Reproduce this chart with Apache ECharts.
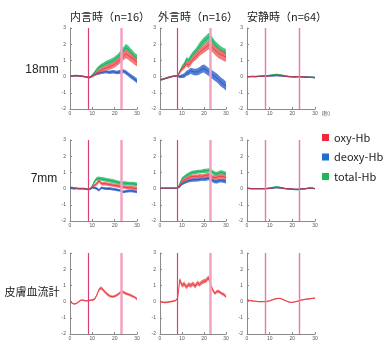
<!DOCTYPE html>
<html><head><meta charset="utf-8">
<script src="https://cdn.jsdelivr.net/npm/echarts@6/dist/echarts.min.js"></script>
<style>html,body{margin:0;padding:0;background:#fff}#c{width:390px;height:355px}</style>
</head><body><div id="c"></div>
<script>
// time axis (s)
const T = [0,1,2,3,4,5,6,7,8,9,10,11,12,13,14,15,16,17,18,19,20,21,22,23,24,25,26,27,28,29,30];
const colTitles = ['内言時（n=16）','外言時（n=16）','安静時（n=64）'];
const rowTitles = ['18mm','7mm','皮膚血流計'];
const legendNames = ['oxy-Hb','deoxy-Hb','total-Hb'];
const taskLines = [8, 23];
const xTicks = [0, 10, 20, 30];
const yTicks = [-2, -1, 0, 1, 2, 3];

// 18mm 内言時
const oxy11 = [0.02,0.04,0.05,0.05,0.04,0.03,0.02,0.0,-0.04,-0.05,0.02,0.12,0.22,0.32,0.4,0.47,0.52,0.57,0.62,0.68,0.76,0.86,0.98,1.12,1.28,1.4,1.32,1.2,1.12,1.0,0.9];
const oxy11w = [0.04,0.04,0.04,0.04,0.04,0.04,0.04,0.04,0.04,0.05,0.07,0.1,0.12,0.13,0.14,0.15,0.16,0.17,0.18,0.19,0.2,0.21,0.22,0.23,0.25,0.26,0.27,0.27,0.28,0.28,0.28];
const deoxy11 = [0.02,0.03,0.04,0.04,0.03,0.02,0.0,-0.02,-0.04,-0.03,0.05,0.12,0.18,0.22,0.26,0.28,0.3,0.28,0.27,0.3,0.28,0.25,0.28,0.3,0.34,0.26,0.15,0.04,-0.06,-0.16,-0.26];
const deoxy11w = [0.04,0.04,0.04,0.04,0.04,0.04,0.04,0.04,0.04,0.05,0.06,0.08,0.09,0.1,0.1,0.1,0.1,0.1,0.11,0.11,0.11,0.11,0.12,0.12,0.12,0.13,0.13,0.14,0.14,0.15,0.15];
const total11 = [0.03,0.05,0.07,0.07,0.06,0.05,0.02,-0.02,-0.06,-0.06,0.08,0.25,0.42,0.55,0.65,0.72,0.8,0.85,0.9,0.96,1.05,1.15,1.27,1.44,1.63,1.78,1.7,1.52,1.38,1.22,1.12];
const total11w = [0.04,0.04,0.04,0.04,0.04,0.04,0.04,0.04,0.04,0.05,0.08,0.1,0.12,0.13,0.14,0.15,0.16,0.17,0.18,0.19,0.19,0.2,0.21,0.22,0.22,0.23,0.23,0.24,0.24,0.24,0.24];
// 18mm 外言時
const oxy12 = [-0.2,-0.17,-0.13,-0.09,-0.05,-0.01,0.02,0.03,0.05,0.28,0.48,0.6,0.8,0.7,0.88,1.08,1.2,1.34,1.5,1.62,1.72,1.82,1.95,1.9,1.76,1.62,1.5,1.4,1.34,1.26,1.2];
const oxy12w = [0.05,0.05,0.05,0.05,0.05,0.05,0.05,0.05,0.06,0.1,0.13,0.15,0.17,0.18,0.19,0.2,0.21,0.22,0.23,0.24,0.25,0.26,0.27,0.28,0.28,0.29,0.29,0.3,0.3,0.3,0.3];
const deoxy12 = [-0.2,-0.17,-0.13,-0.09,-0.05,-0.01,0.02,0.03,0.04,0.0,0.03,0.06,0.2,0.26,0.36,0.3,0.28,0.3,0.36,0.46,0.5,0.4,0.3,0.2,0.1,0.0,-0.1,-0.24,-0.36,-0.46,-0.6];
const deoxy12w = [0.05,0.05,0.05,0.05,0.05,0.05,0.05,0.05,0.06,0.1,0.12,0.14,0.16,0.18,0.19,0.2,0.21,0.22,0.23,0.24,0.24,0.25,0.25,0.26,0.26,0.27,0.27,0.28,0.28,0.28,0.28];
const total12 = [-0.2,-0.17,-0.13,-0.09,-0.05,-0.01,0.02,0.03,0.06,0.3,0.58,0.74,1.04,0.96,1.2,1.38,1.5,1.68,1.88,2.05,2.2,2.3,2.45,2.38,2.18,1.96,1.82,1.7,1.6,1.52,1.46];
const total12w = [0.05,0.05,0.05,0.05,0.05,0.05,0.05,0.05,0.06,0.1,0.12,0.14,0.16,0.17,0.18,0.19,0.2,0.21,0.22,0.22,0.23,0.23,0.24,0.24,0.24,0.25,0.25,0.25,0.25,0.25,0.25];
// 18mm 安静時
const oxy13 = [0.0,0.0,0.01,0.0,0.0,0.01,0.02,0.03,0.03,0.04,0.05,0.06,0.08,0.09,0.08,0.06,0.04,0.02,0.01,0.0,0.0,-0.01,0.0,0.0,-0.01,-0.02,-0.03,-0.04,-0.05,-0.05,-0.06];
const deoxy13 = [0.0,0.0,0.0,0.0,0.0,0.01,0.01,0.02,0.02,0.03,0.04,0.04,0.05,0.06,0.05,0.04,0.03,0.02,0.0,0.0,-0.01,-0.01,-0.01,0.0,-0.01,-0.02,-0.03,-0.03,-0.04,-0.04,-0.05];
const total13 = [0.0,0.0,0.01,0.01,0.01,0.02,0.03,0.04,0.05,0.06,0.08,0.1,0.12,0.14,0.12,0.1,0.07,0.04,0.02,0.0,0.0,-0.01,0.0,0.0,-0.01,-0.02,-0.03,-0.04,-0.05,-0.06,-0.07];
const rest13w = 0.04;
// 7mm 内言時
const oxy21 = [0.08,0.06,0.04,0.02,0.0,0.0,0.0,-0.02,-0.05,-0.03,0.08,0.2,0.3,0.48,0.32,0.3,0.3,0.27,0.25,0.22,0.2,0.18,0.15,0.12,0.1,0.08,0.06,0.05,0.04,0.02,0.0];
const oxy21w = [0.05,0.05,0.05,0.05,0.05,0.05,0.05,0.05,0.05,0.06,0.08,0.1,0.11,0.12,0.11,0.11,0.11,0.11,0.11,0.11,0.11,0.11,0.11,0.11,0.11,0.12,0.12,0.12,0.12,0.12,0.12];
const deoxy21 = [0.02,0.0,-0.02,0.0,0.0,0.0,0.0,-0.02,-0.05,-0.02,0.05,0.05,0.0,-0.1,0.05,0.02,0.0,0.0,0.0,-0.03,-0.05,-0.08,-0.1,-0.15,-0.2,-0.17,-0.15,-0.14,-0.15,-0.17,-0.2];
const deoxy21w = [0.04,0.04,0.04,0.04,0.04,0.04,0.04,0.04,0.04,0.05,0.06,0.07,0.08,0.08,0.08,0.08,0.08,0.08,0.08,0.08,0.08,0.08,0.08,0.08,0.09,0.09,0.09,0.09,0.09,0.09,0.09];
const total21 = [0.08,0.06,0.04,0.02,0.0,0.0,0.0,-0.02,-0.05,-0.02,0.15,0.45,0.6,0.62,0.6,0.58,0.55,0.52,0.5,0.47,0.44,0.4,0.36,0.35,0.34,0.33,0.31,0.3,0.3,0.28,0.25];
const total21w = [0.05,0.05,0.05,0.05,0.05,0.05,0.05,0.05,0.05,0.06,0.08,0.1,0.12,0.12,0.12,0.12,0.12,0.12,0.12,0.12,0.12,0.12,0.12,0.12,0.12,0.12,0.12,0.12,0.12,0.12,0.12];
// 7mm 外言時
const oxy22 = [0.03,0.03,0.03,0.03,0.03,0.03,0.03,0.03,0.03,0.2,0.42,0.52,0.6,0.68,0.72,0.75,0.76,0.75,0.78,0.76,0.78,0.82,0.85,0.8,0.7,0.68,0.7,0.75,0.75,0.72,0.7];
const oxy22w = [0.03,0.03,0.03,0.03,0.03,0.03,0.03,0.03,0.03,0.07,0.1,0.11,0.12,0.12,0.12,0.12,0.12,0.12,0.12,0.12,0.13,0.13,0.13,0.13,0.13,0.14,0.14,0.14,0.14,0.14,0.14];
const deoxy22 = [0.02,0.02,0.02,0.02,0.02,0.02,0.02,0.02,0.02,0.12,0.3,0.38,0.45,0.5,0.52,0.55,0.55,0.56,0.58,0.6,0.6,0.62,0.65,0.6,0.5,0.45,0.45,0.5,0.5,0.48,0.45];
const deoxy22w = [0.03,0.03,0.03,0.03,0.03,0.03,0.03,0.03,0.03,0.07,0.1,0.11,0.12,0.12,0.12,0.12,0.12,0.12,0.12,0.12,0.13,0.13,0.13,0.13,0.13,0.13,0.13,0.13,0.13,0.13,0.13];
const total22 = [0.03,0.03,0.03,0.03,0.03,0.03,0.03,0.03,0.03,0.3,0.6,0.7,0.8,0.88,0.95,1.0,1.02,1.04,1.05,1.06,1.1,1.1,1.12,1.1,1.0,0.92,0.9,0.98,1.0,0.95,0.9];
const total22w = [0.03,0.03,0.03,0.03,0.03,0.03,0.03,0.03,0.03,0.07,0.1,0.11,0.12,0.12,0.12,0.12,0.12,0.12,0.12,0.12,0.13,0.13,0.13,0.13,0.13,0.14,0.14,0.14,0.14,0.14,0.14];
// 7mm 安静時
const oxy23 = [0.02,0.01,0.0,0.0,0.0,0.0,0.0,0.0,0.0,0.01,0.02,0.04,0.06,0.08,0.07,0.04,0.02,0.0,-0.01,-0.02,-0.03,-0.04,-0.05,-0.04,-0.03,-0.01,0.0,0.02,0.03,0.02,0.0];
const deoxy23 = [0.01,0.0,0.0,0.0,0.0,0.0,0.0,0.0,0.0,0.0,0.01,0.02,0.04,0.05,0.04,0.03,0.01,0.0,-0.01,-0.02,-0.03,-0.04,-0.04,-0.03,-0.02,-0.01,0.0,0.01,0.02,0.01,0.0];
const total23 = [0.03,0.01,0.0,0.0,0.0,0.0,0.0,0.0,0.0,0.01,0.03,0.06,0.09,0.11,0.1,0.06,0.03,0.0,-0.02,-0.04,-0.05,-0.06,-0.07,-0.06,-0.04,-0.02,0.0,0.03,0.04,0.03,0.0];
const rest23w = 0.035;
// 皮膚血流計
const skin31 = [0.0,-0.1,-0.15,-0.1,0.0,0.1,0.08,0.05,0.05,0.08,0.1,0.15,0.4,0.75,0.85,0.7,0.55,0.42,0.33,0.3,0.33,0.4,0.5,0.62,0.58,0.5,0.45,0.4,0.33,0.27,0.15];
const skin31w = [0.05,0.05,0.05,0.05,0.05,0.05,0.05,0.05,0.05,0.05,0.06,0.07,0.08,0.09,0.1,0.1,0.09,0.09,0.08,0.08,0.08,0.08,0.08,0.09,0.09,0.09,0.08,0.08,0.08,0.08,0.08];
const skin32 = [0.0,-0.03,-0.05,-0.05,-0.02,0.0,0.03,0.06,0.2,1.35,1.0,1.1,0.9,1.05,1.0,1.1,0.95,1.15,1.05,1.2,1.25,1.3,1.48,1.1,0.7,0.5,0.65,0.6,0.5,0.45,0.3];
const skin32w = [0.05,0.05,0.05,0.05,0.05,0.05,0.05,0.05,0.07,0.13,0.14,0.14,0.14,0.14,0.14,0.14,0.14,0.14,0.14,0.14,0.14,0.14,0.14,0.13,0.11,0.1,0.1,0.1,0.1,0.1,0.1];
const skin33 = [0.1,0.07,0.05,0.03,0.02,0.0,0.0,0.0,0.0,0.02,0.05,0.1,0.15,0.18,0.2,0.18,0.12,0.06,0.0,-0.05,-0.05,-0.02,0.02,0.05,0.1,0.12,0.15,0.16,0.18,0.2,0.22];
const skin33w = 0.04;

const C = {
  oxy:   {band:'#f46a6c', line:'#e22f3a', legend:'#ee2a3a'},
  deoxy: {band:'#4272d4', line:'#1f4cb0', legend:'#1e6fd0'},
  total: {band:'#33c275', line:'#13a255', legend:'#1db85a'}
};
// panels: [row, col, bands]
const panels = [
  [0,0,[['total-Hb','total',total11,total11w],['deoxy-Hb','deoxy',deoxy11,deoxy11w],['oxy-Hb','oxy',oxy11,oxy11w]]],
  [0,1,[['total-Hb','total',total12,total12w],['deoxy-Hb','deoxy',deoxy12,deoxy12w],['oxy-Hb','oxy',oxy12,oxy12w]]],
  [0,2,[['total-Hb','total',total13,rest13w],['deoxy-Hb','deoxy',deoxy13,rest13w],['oxy-Hb','oxy',oxy13,rest13w]]],
  [1,0,[['total-Hb','total',total21,total21w],['deoxy-Hb','deoxy',deoxy21,deoxy21w],['oxy-Hb','oxy',oxy21,oxy21w]]],
  [1,1,[['total-Hb','total',total22,total22w],['deoxy-Hb','deoxy',deoxy22,deoxy22w],['oxy-Hb','oxy',oxy22,oxy22w]]],
  [1,2,[['total-Hb','total',total23,rest23w],['deoxy-Hb','deoxy',deoxy23,rest23w],['oxy-Hb','oxy',oxy23,rest23w]]],
  [2,0,[['skin','oxy',skin31,skin31w]]],
  [2,1,[['skin','oxy',skin32,skin32w]]],
  [2,2,[['skin','oxy',skin33,skin33w]]]
];

const colLeft = [70, 160, 247];
const colWidth = [67, 66, 68];
const rowTop = [28, 140, 253];
const rowHeight = 81;
const FONT = '"Liberation Sans","Noto Sans CJK JP",sans-serif';

const grids=[], xAxes=[], yAxes=[], series=[];
panels.forEach((p,k)=>{
  const [r,c,bands] = p;
  grids.push({left:colLeft[c], top:rowTop[r], width:colWidth[c], height:rowHeight});
  const xa = {gridIndex:k, type:'value', min:xTicks[0], max:xTicks[xTicks.length-1], interval:10,
    axisLine:{show:true, onZero:false, lineStyle:{color:'#8a8a8a', width:1}},
    axisTick:{show:true, inside:true, length:2, lineStyle:{color:'#8a8a8a'}},
    axisLabel:{fontSize:5, color:'#555', margin:2, fontFamily:FONT},
    splitLine:{show:false}};
  if (r===0 && c===2) {
    xa.name='(秒)'; xa.nameLocation='end'; xa.nameGap=6;
    xa.nameTextStyle={fontSize:5, color:'#555', align:'left', verticalAlign:'top', padding:[2,0,0,0], fontFamily:FONT};
  }
  xAxes.push(xa);
  yAxes.push({gridIndex:k, type:'value', min:yTicks[0], max:yTicks[yTicks.length-1], interval:1,
    axisLine:{show:true, onZero:false, lineStyle:{color:'#8a8a8a', width:1}},
    axisTick:{show:true, inside:true, length:2, lineStyle:{color:'#8a8a8a'}},
    axisLabel:{fontSize:5, color:'#555', margin:4, fontFamily:FONT},
    splitLine:{show:false}});
  bands.forEach((b,j)=>{
    const [name, key, mean, w] = b;
    const wi = i => Array.isArray(w) ? w[i] : w;
    // band: each row = [t, lower, upper]
    const bandData = T.map((t,i)=>[t, mean[i]-wi(i), mean[i]+wi(i)]);
    series.push({type:'custom', name:'band'+k+'_'+j, xAxisIndex:k, yAxisIndex:k, silent:true, animation:false,
      data:[0], z:2,
      renderItem:(params, api)=>{
        const up = bandData.map(d=>api.coord([d[0], d[2]]));
        const lo = bandData.map(d=>api.coord([d[0], d[1]])).reverse();
        return {type:'polygon', shape:{points:up.concat(lo)},
          style:{fill:C[key].band, opacity:0.9}};
      }});
    const s = {type:'line', name:name, xAxisIndex:k, yAxisIndex:k,
      data:T.map((t,i)=>[t, mean[i]]), symbol:'none', silent:true, animation:false,
      lineStyle:{color:C[key].line, width:0.8}, itemStyle:{color:C[key].legend}, z:3};
    if (j===0) {
      const styles = c===2
        ? [{color:'#e87aa3', width:1.4},{color:'#e87aa3', width:1.4}]
        : [{color:'#d9407a', width:1.2},{color:'#f2a2c2', width:2.5}];
      s.markLine = {silent:true, symbol:['none','none'], label:{show:false}, animation:false,
        data: taskLines.map((x,m)=>({xAxis:x, lineStyle:Object.assign({type:'solid'}, styles[m])}))};
    }
    series.push(s);
  });
});

const graphics = [];
colTitles.forEach((t,c)=>{
  graphics.push({type:'text', x:[110,198,287][c], y:17,
    style:{text:t, font:'11px "Noto Sans CJK JP"', fill:'#222', textAlign:'center', textVerticalAlign:'middle'}});
});
const rowX = [42, 44, 32];
const rowY = [70, 179, 293];
rowTitles.forEach((t,r)=>{
  graphics.push({type:'text', x:rowX[r], y:rowY[r],
    style:{text:t, font:(r===2?'11px':'12px')+' "Liberation Sans","Noto Sans CJK JP"', fill:'#222', textAlign:'center', textVerticalAlign:'middle'}});
});

const chart = echarts.init(document.getElementById('c'), null, {renderer:'canvas'});
chart.setOption({
  animation:false,
  backgroundColor:'#fff',
  grid:grids, xAxis:xAxes, yAxis:yAxes, series:series,
  legend:{data:legendNames.map(n=>({name:n, icon:'rect'})), orient:'vertical', left:322, top:132,
    itemWidth:7, itemHeight:7, itemGap:8.5, padding:0, selectedMode:false,
    textStyle:{fontSize:11, color:'#222', fontFamily:'"Noto Sans CJK JP",sans-serif'}},
  graphic:graphics
});
</script></body></html>
